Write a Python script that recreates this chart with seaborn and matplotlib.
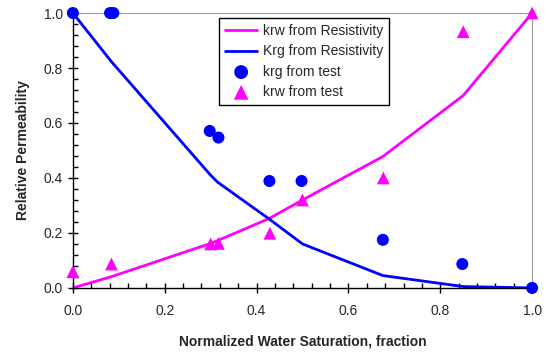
import matplotlib
matplotlib.use("Agg")
import matplotlib.pyplot as plt
import seaborn as sns
import pandas as pd
from matplotlib.ticker import MultipleLocator

# resistivity-derived curves
sw_res = [0.0, 0.084, 0.30, 0.315, 0.428, 0.5, 0.675, 0.85, 1.0]
krw_res = [0.0, 0.041, 0.162, 0.172, 0.253, 0.32, 0.478, 0.70, 1.0]
krg_res = [1.0, 0.823, 0.41, 0.385, 0.25, 0.16, 0.045, 0.005, 0.0]

# test points
sw_krg_test = [0.0, 0.081, 0.088, 0.298, 0.317, 0.428, 0.498, 0.675, 0.848, 1.0]
krg_test = [1.0, 1.0, 1.0, 0.571, 0.547, 0.389, 0.389, 0.175, 0.087, 0.0]
sw_krw_test = [0.0, 0.084, 0.30, 0.317, 0.429, 0.5, 0.676, 0.85, 1.0]
krw_test = [0.059, 0.087, 0.16, 0.162, 0.199, 0.32, 0.40, 0.932, 1.0]

sns.set_style("ticks")
plt.rcParams['font.family'] = ['Liberation Sans', 'DejaVu Sans']

res = pd.DataFrame({'sw': sw_res, 'krw': krw_res, 'krg': krg_res})
gas = pd.DataFrame({'sw': sw_krg_test, 'kr': krg_test})
wat = pd.DataFrame({'sw': sw_krw_test, 'kr': krw_test})

fig = plt.figure(figsize=(5.52, 3.52), dpi=100)
ax = fig.add_axes([0.132, 0.182, 0.832, 0.781])

sns.lineplot(data=res, x='sw', y='krw', color='#FF00FF', lw=2, ax=ax,
             label='krw from Resistivity')
sns.lineplot(data=res, x='sw', y='krg', color='#0000FF', lw=2, ax=ax,
             label='Krg from Resistivity')
sns.scatterplot(data=gas, x='sw', y='kr', color='#0000FF', marker='o', s=75,
                edgecolor='none', ax=ax, label='krg from test', clip_on=False, zorder=5)
sns.scatterplot(data=wat, x='sw', y='kr', color='#FF00FF', marker='^', s=85,
                edgecolor='none', ax=ax, label='krw from test', clip_on=False, zorder=5)

ax.set_xlim(0, 1)
ax.set_ylim(0, 1)
ax.xaxis.set_major_locator(MultipleLocator(0.2))
ax.yaxis.set_major_locator(MultipleLocator(0.2))
ax.xaxis.set_minor_locator(MultipleLocator(0.04))
ax.yaxis.set_minor_locator(MultipleLocator(0.04))
ax.xaxis.set_major_formatter(matplotlib.ticker.FormatStrFormatter('%.1f'))
ax.yaxis.set_major_formatter(matplotlib.ticker.FormatStrFormatter('%.1f'))
ax.tick_params(which='major', direction='inout', length=7, width=1, labelsize=10, color='black')
ax.tick_params(axis='x', which='major', pad=8)
ax.tick_params(which='minor', direction='in', length=3.5, width=1, color='black')

for s in ['top', 'right']:
    ax.spines[s].set_color('#999999')
for s in ['left', 'bottom']:
    ax.spines[s].set_color('black')
    ax.spines[s].set_linewidth(1)

ax.set_xlabel('Normalized Water Saturation, fraction', fontsize=10, fontweight='bold', labelpad=12)
ax.set_ylabel('Relative Permeability', fontsize=10, fontweight='bold', labelpad=10)

leg = ax.legend(loc='upper left', bbox_to_anchor=(0.318, 0.982), borderaxespad=0,
                fontsize=10, frameon=True, markerscale=1.15,
                fancybox=False, edgecolor='black', framealpha=1, borderpad=0.45,
                labelspacing=0.45, handlelength=2.3, handletextpad=0.4)
leg.get_frame().set_linewidth(1)

plt.savefig('out.png', dpi=100)
